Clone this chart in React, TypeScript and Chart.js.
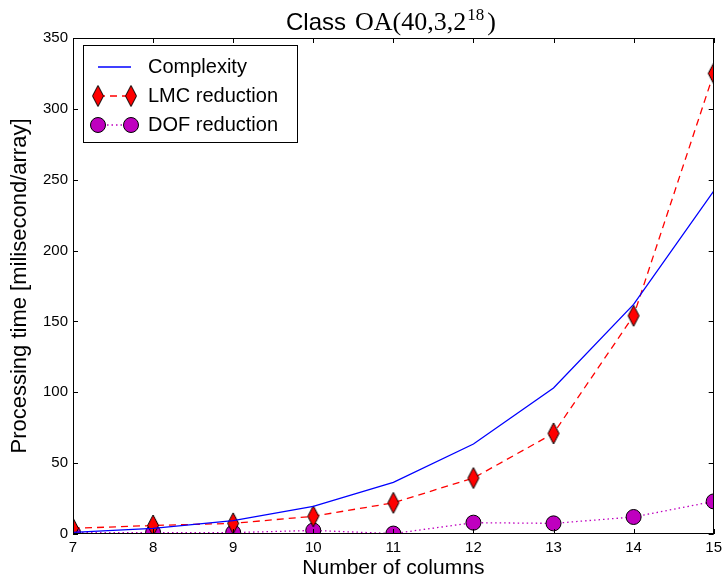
import React, { useEffect, useRef } from 'react';
import { Chart, registerables } from 'chart.js';
Chart.register(...registerables);

const columns = [7, 8, 9, 10, 11, 12, 13, 14, 15];
const complexity = [1.2, 4, 9.5, 19.5, 36.5, 63.5, 103, 162, 242];
const lmcReduction = [4, 6, 7.5, 12.5, 22, 39.5, 71, 154, 325];
const dofReduction = [1, 1, 1, 2.5, 0.3, 8, 7.5, 12, 23];
const xTickValues = [7, 8, 9, 10, 11, 12, 13, 14, 15];
const yTickValues = [0, 50, 100, 150, 200, 250, 300, 350];
const seriesNames = ['Complexity', 'LMC reduction', 'DOF reduction'];

const SANS = '"Liberation Sans", Arial, sans-serif';
const SERIF = '"Liberation Serif", "DejaVu Serif", serif';
const BLUE = '#0000ff';
const RED = '#ff0000';
const MAGENTA = '#bf00bf';

function makeDiamond(): HTMLCanvasElement {
  const w = 14, h = 23;
  const c = document.createElement('canvas');
  c.width = w; c.height = h;
  const g = c.getContext('2d')!;
  g.beginPath();
  g.moveTo(w / 2, 1);
  g.lineTo(w - 1.5, h / 2);
  g.lineTo(w / 2, h - 1);
  g.lineTo(1.5, h / 2);
  g.closePath();
  g.fillStyle = RED;
  g.fill();
  g.lineWidth = 1;
  g.strokeStyle = '#000';
  g.stroke();
  return c;
}

export default function App() {
  const ref = useRef<HTMLCanvasElement | null>(null);
  useEffect(() => {
    document.body.style.margin = '0';
    const diamond = makeDiamond();
    const pts = (ys: number[]) => columns.map((x, i) => ({ x, y: ys[i] }));

    const framePlugin = {
      id: 'framePlugin',
      afterDraw(chart: any) {
        const ctx = chart.ctx;
        const { left, right, top, bottom } = chart.chartArea;
        const xs = chart.scales.x;
        const ys = chart.scales.y;
        ctx.save();
        ctx.strokeStyle = '#000';
        ctx.lineWidth = 1;
        ctx.strokeRect(Math.round(left) + 0.5, Math.round(top) + 0.5, Math.round(right - left) - 1, Math.round(bottom - top) - 1);
        const tl = 5;
        ctx.beginPath();
        xTickValues.forEach((v) => {
          const px = Math.round(xs.getPixelForValue(v)) + 0.5;
          ctx.moveTo(px, bottom); ctx.lineTo(px, bottom - tl);
          ctx.moveTo(px, top); ctx.lineTo(px, top + tl);
        });
        yTickValues.forEach((v) => {
          const py = Math.round(ys.getPixelForValue(v)) + 0.5;
          ctx.moveTo(left, py); ctx.lineTo(left + tl, py);
          ctx.moveTo(right, py); ctx.lineTo(right - tl, py);
        });
        ctx.stroke();

        // title
        ctx.fillStyle = '#000';
        ctx.textBaseline = 'alphabetic';
        ctx.textAlign = 'left';
        const base = 30;
        let tx = 286;
        ctx.font = `24px ${SANS}`;
        ctx.fillText('Class', tx, base);
        tx += ctx.measureText('Class').width + 9;
        ctx.font = `26px ${SERIF}`;
        ctx.fillText('OA(40,3,2', tx, base);
        tx += ctx.measureText('OA(40,3,2').width + 1;
        ctx.font = `17px ${SERIF}`;
        ctx.fillText('18', tx, base - 10);
        tx += ctx.measureText('18').width + 3;
        ctx.font = `26px ${SERIF}`;
        ctx.fillText(')', tx, base);

        // legend
        const bx = 83.5, by = 45.5, bw = 214, bh = 97;
        ctx.fillStyle = '#fff';
        ctx.fillRect(bx, by, bw, bh);
        ctx.strokeStyle = '#000';
        ctx.lineWidth = 1;
        ctx.strokeRect(bx, by, bw, bh);
        const rows = [67, 96, 125];
        const x0 = 98, x1 = 131;
        ctx.strokeStyle = BLUE; ctx.lineWidth = 1.3; ctx.setLineDash([]);
        ctx.beginPath(); ctx.moveTo(x0, rows[0]); ctx.lineTo(x1, rows[0]); ctx.stroke();
        ctx.strokeStyle = RED; ctx.setLineDash([7, 5]);
        ctx.beginPath(); ctx.moveTo(x0, rows[1]); ctx.lineTo(x1, rows[1]); ctx.stroke();
        ctx.setLineDash([]);
        [x0, x1].forEach((x) => ctx.drawImage(diamond, x - diamond.width / 2, rows[1] - diamond.height / 2));
        ctx.strokeStyle = MAGENTA; ctx.setLineDash([1.5, 3]);
        ctx.beginPath(); ctx.moveTo(x0, rows[2]); ctx.lineTo(x1, rows[2]); ctx.stroke();
        ctx.setLineDash([]);
        [x0, x1].forEach((x) => {
          ctx.beginPath(); ctx.arc(x, rows[2], 7.5, 0, Math.PI * 2);
          ctx.fillStyle = MAGENTA; ctx.fill();
          ctx.strokeStyle = '#000'; ctx.lineWidth = 1; ctx.stroke();
        });
        ctx.fillStyle = '#000';
        ctx.font = `20px ${SANS}`;
        ctx.textBaseline = 'middle';
        seriesNames.forEach((n, i) => ctx.fillText(n, 148, rows[i]));
        ctx.restore();
      },
    };

    const chart = new Chart(ref.current!, {
      type: 'line',
      data: {
        datasets: [
          {
            label: seriesNames[0],
            data: pts(complexity),
            borderColor: BLUE,
            borderWidth: 1.3,
            pointRadius: 0,
            fill: false,
            clip: 0,
          },
          {
            label: seriesNames[1],
            data: pts(lmcReduction),
            borderColor: RED,
            borderWidth: 1.3,
            borderDash: [7, 5],
            pointStyle: diamond,
            pointRadius: 8,
            fill: false,
            clip: 0,
          },
          {
            label: seriesNames[2],
            data: pts(dofReduction),
            borderColor: MAGENTA,
            borderWidth: 1.3,
            borderDash: [1.5, 3],
            pointStyle: 'circle',
            pointRadius: 7.5,
            pointBackgroundColor: MAGENTA,
            pointBorderColor: '#000',
            pointBorderWidth: 1,
            fill: false,
            clip: 0,
          },
        ] as any,
      },
      options: {
        animation: false,
        responsive: true,
        maintainAspectRatio: false,
        layout: { padding: { top: 38, right: 9, left: 0, bottom: 0 } },
        plugins: { legend: { display: false }, title: { display: false }, tooltip: { enabled: false } },
        scales: {
          x: {
            type: 'linear',
            min: 7,
            max: 15,
            afterFit: (s: any) => { s.height = 47; s.paddingLeft = 0; s.paddingRight = 0; },
            afterBuildTicks: (s: any) => { s.ticks = xTickValues.map((v) => ({ value: v })); },
            grid: { display: false, drawTicks: false },
            border: { display: false },
            ticks: { color: '#000', font: { family: SANS, size: 15 }, padding: 5, maxRotation: 0, autoSkip: false },
            title: { display: true, text: 'Number of columns', color: '#000', font: { family: SANS, size: 21 }, padding: { top: 0, bottom: 0 } },
          },
          y: {
            type: 'linear',
            min: 0,
            max: 350,
            afterFit: (s: any) => { s.width = 73; s.paddingTop = 0; s.paddingBottom = 0; },
            afterBuildTicks: (s: any) => { s.ticks = yTickValues.map((v) => ({ value: v })); },
            grid: { display: false, drawTicks: false },
            border: { display: false },
            ticks: { color: '#000', font: { family: SANS, size: 15 }, padding: 5, autoSkip: false },
            title: { display: true, text: 'Processing time [milisecond/array]', color: '#000', font: { family: SANS, size: 22 }, padding: { top: 7, bottom: 0 } },
          },
        },
      },
      plugins: [framePlugin],
    });
    return () => chart.destroy();
  }, []);

  return (
    <div style={{ position: 'absolute', left: 0, top: 0, width: 723, height: 581, background: '#fff' }}>
      <canvas ref={ref} />
    </div>
  );
}
